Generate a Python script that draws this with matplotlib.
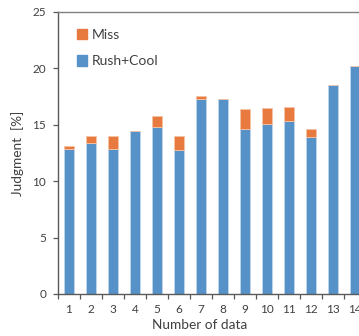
import numpy as np
import matplotlib
matplotlib.use("Agg")
import matplotlib.pyplot as plt
from matplotlib.patches import Patch

# dados
numeros = ["1", "2", "3", "4", "5", "6", "7", "8", "9", "10", "11", "12", "13", "14"]
rush_cool = [12.85, 13.35, 12.85, 14.45, 14.8, 12.75, 17.25, 17.3, 14.65, 15.05, 15.35, 13.9, 18.55, 20.25]
miss = [0.3, 0.7, 1.2, 0.0, 0.95, 1.3, 0.3, 0.0, 1.75, 1.4, 1.2, 0.7, 0.0, 0.0]

azul = "#5692C8"
laranja = "#E8793F"
cinza = "#404040"

plt.rcParams["font.family"] = ["Lato", "DejaVu Sans"]

fig = plt.figure(figsize=(3.59, 3.36), dpi=100)
# eixo vai um pouco alem da borda direita (o grafico original esta cortado)
ax = fig.add_axes([58 / 359, 42 / 336, 308 / 359, 282 / 336])

x = np.arange(len(numeros))
ax.bar(x, rush_cool, width=0.42, color=azul, edgecolor="#BFD6EC", linewidth=0.6)
ax.bar(x, miss, width=0.42, bottom=rush_cool, color=laranja, edgecolor="#F5C3A5", linewidth=0.6)

ax.set_xlim(-0.5, len(numeros) - 0.5)
ax.set_ylim(0, 25)
ax.set_yticks([0, 5, 10, 15, 20, 25])
ax.set_xticks(x)
ax.set_xticklabels(numeros)
ax.set_xticks(np.arange(-0.5, len(numeros), 1), minor=True)
ax.tick_params(axis="x", which="major", length=0, labelsize=8.5, colors=cinza, pad=7)
ax.tick_params(axis="x", which="minor", length=3.5, color="#595959", width=0.9)
ax.tick_params(axis="y", length=3.5, labelsize=8.5, colors=cinza, pad=5, color="#595959", width=0.9)

for lado in ["left", "bottom"]:
    ax.spines[lado].set_color("#595959")
    ax.spines[lado].set_linewidth(1.0)
ax.spines["top"].set_color("#808080")
ax.spines["top"].set_linewidth(1.0)
ax.spines["right"].set_visible(False)

ax.set_xlabel("Number of data", fontsize=9.8, color=cinza)
ax.xaxis.set_label_coords(0.461, -0.09)
ax.set_ylabel("Judgment  [%]", fontsize=9.8, color=cinza)
ax.yaxis.set_label_coords(-0.11, 0.5)

handles = [Patch(color=laranja), Patch(color=azul)]
ax.legend(handles, ["Miss", "Rush+Cool"], loc="upper left", bbox_to_anchor=(0.02, 0.985),
          frameon=False, fontsize=10, handlelength=0.75, handleheight=0.75,
          handletextpad=0.35, labelspacing=1.05, labelcolor=cinza)

fig.savefig("out.png", dpi=100)
